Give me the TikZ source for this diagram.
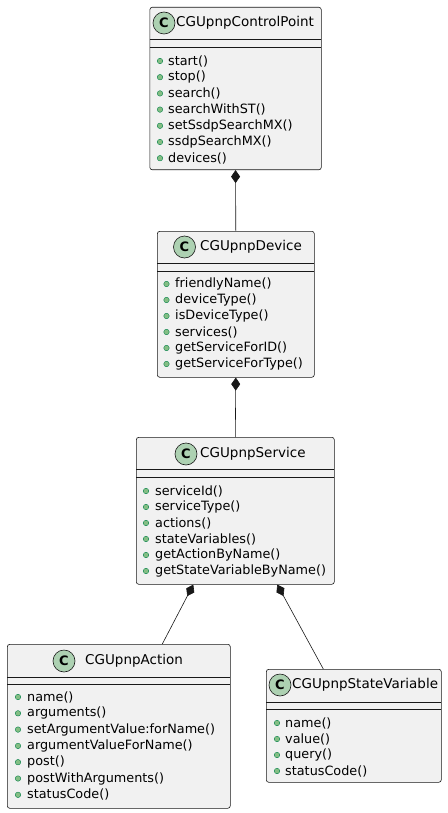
\documentclass[tikz,border=0pt]{standalone}
\usepackage{fontspec}
\setmainfont{DejaVu Sans}
\usetikzlibrary{arrows.meta,calc}
\definecolor{boxfill}{HTML}{F1F1F1}
\definecolor{boxline}{HTML}{181818}
\definecolor{cfill}{HTML}{ADD1B2}
\definecolor{bfill}{HTML}{84BE84}
\definecolor{bline}{HTML}{038048}
\tikzset{
  classbox/.style={draw=boxline, fill=boxfill, line width=0.6pt, rounded corners=2.5pt, inner sep=0pt, anchor=north west},
  sepline/.style={draw=boxline, line width=0.6pt},
  ctitle/.style={font=\fontsize{13.5}{15}\selectfont, inner sep=0pt, anchor=west},
  cicon/.style={circle, draw=boxline, fill=cfill, line width=0.6pt, minimum size=22pt, inner sep=0pt, font=\fontsize{13}{15}\selectfont\bfseries},
  member/.style={font=\fontsize{12.8}{15}\selectfont, inner sep=0pt, anchor=west},
  bullet/.style={circle, draw=bline, fill=bfill, line width=0.4pt, minimum size=5.5pt, inner sep=0pt},
  comp/.style={draw=boxline, line width=0.6pt, {Diamond[length=13pt,width=9pt]}-},
}
\begin{document}
\begin{tikzpicture}[x=1pt,y=-1pt]
\useasboundingbox (0,0) rectangle (447,813);
% ---------- CGUpnpControlPoint
\node[classbox, minimum width=171.5pt, minimum height=162.5pt] (cp) at (149.5,7) {};
\node[cicon] (cpi) at (164,23) {C};
\node[ctitle] (cpt) at (176,23) {CGUpnpControlPoint};
\draw[sepline] (149.5,39) -- (321,39);
\draw[sepline] (149.5,47) -- (321,47);
\foreach \t [count=\i] in {start(),stop(),search(),searchWithST(),setSsdpSearchMX(),ssdpSearchMX(),devices()}{
  \node[bullet] (cpb\i) at (160,{61+16.2*(\i-1)}) {};
  \node[member] (cpm\i) at (168,{61+16.2*(\i-1)}) {\t};
}
% ---------- CGUpnpDevice
\node[classbox, minimum width=157pt, minimum height=146pt] (dev) at (157,231) {};
\node[cicon] (devi) at (184.5,247) {C};
\node[ctitle] (devt) at (200,247) {CGUpnpDevice};
\draw[sepline] (157,263) -- (314,263);
\draw[sepline] (157,271) -- (314,271);
\foreach \t [count=\i] in {friendlyName(),deviceType(),isDeviceType(),services(),getServiceForID(),getServiceForType()}{
  \node[bullet] (devb\i) at (166.5,{284+16*(\i-1)}) {};
  \node[member] (devm\i) at (175,{284+16*(\i-1)}) {\t};
}
% ---------- CGUpnpService
\node[classbox, minimum width=198pt, minimum height=147pt] (svc) at (136,437) {};
\node[cicon] (svci) at (186,454) {C};
\node[ctitle] (svct) at (200,454) {CGUpnpService};
\draw[sepline] (136,469) -- (334,469);
\draw[sepline] (136,477) -- (334,477);
\foreach \t [count=\i] in {serviceId(),serviceType(),actions(),stateVariables(),getActionByName(),getStateVariableByName()}{
  \node[bullet] (svcb\i) at (146,{491+16*(\i-1)}) {};
  \node[member] (svcm\i) at (155,{491+16*(\i-1)}) {\t};
}
% ---------- CGUpnpAction
\node[classbox, minimum width=223pt, minimum height=164pt] (act) at (7,644) {};
\node[cicon] (acti) at (64,661) {C};
\node[ctitle] (actt) at (85,661) {CGUpnpAction};
\draw[sepline] (7,677) -- (230,677);
\draw[sepline] (7,684) -- (230,684);
\foreach \t [count=\i] in {name(),arguments(),setArgumentValue:forName(),argumentValueForName(),post(),postWithArguments(),statusCode()}{
  \node[bullet] (actb\i) at (18,{697+16.3*(\i-1)}) {};
  \node[member] (actm\i) at (27,{697+16.3*(\i-1)}) {\t};
}
% ---------- CGUpnpStateVariable
\node[classbox, minimum width=175pt, minimum height=113pt] (sv) at (266,669) {};
\node[cicon] (svi) at (280,685) {C};
\node[ctitle] (svt) at (292,685) {CGUpnpStateVariable};
\draw[sepline] (266,702) -- (441,702);
\draw[sepline] (266,709) -- (441,709);
\foreach \t [count=\i] in {name(),value(),query(),statusCode()}{
  \node[bullet] (svb\i) at (277,{723+16*(\i-1)}) {};
  \node[member] (svm\i) at (285,{723+16*(\i-1)}) {\t};
}
% ---------- connectors
\draw[comp] (cp.south) -- (dev.north);
\draw[comp] (dev.south) -- (svc.north);
\draw[comp] ([xshift=-42pt]svc.south) -- ([xshift=43.5pt]act.north);
\draw[comp] ([xshift=42pt]svc.south) -- ([xshift=-30.5pt]sv.north);
\end{tikzpicture}
\end{document}
